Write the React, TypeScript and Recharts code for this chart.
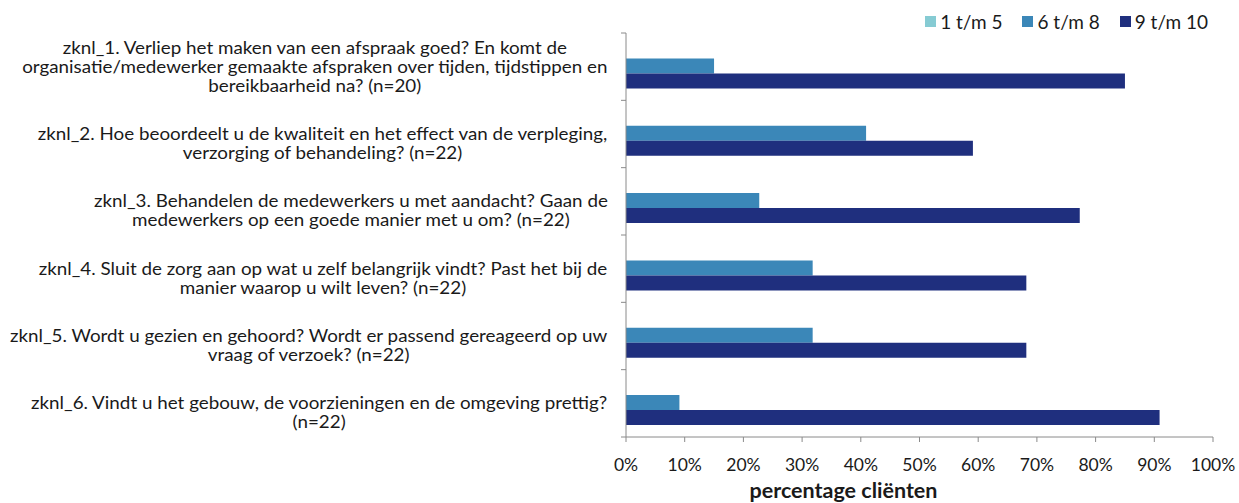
import { BarChart, Bar, XAxis, YAxis, Legend } from "recharts";

const categoryLines: string[][] = [
  [
    "zknl_1. Verliep het maken van een afspraak goed? En komt de",
    "organisatie/medewerker gemaakte afspraken over tijden, tijdstippen en",
    "bereikbaarheid na? (n=20)",
  ],
  [
    "zknl_2. Hoe beoordeelt u de kwaliteit en het effect van de verpleging,",
    "verzorging of behandeling? (n=22)",
  ],
  [
    "zknl_3. Behandelen de medewerkers u met aandacht? Gaan de",
    "medewerkers op een goede manier met u om? (n=22)",
  ],
  [
    "zknl_4. Sluit de zorg aan op wat u zelf belangrijk vindt? Past het bij de",
    "manier waarop u wilt leven? (n=22)",
  ],
  [
    "zknl_5. Wordt u gezien en gehoord? Wordt er passend gereageerd op uw",
    "vraag of verzoek? (n=22)",
  ],
  [
    "zknl_6. Vindt u het gebouw, de voorzieningen en de omgeving prettig?",
    "(n=22)",
  ],
];

const low = [0, 0, 0, 0, 0, 0]; // 1 t/m 5
const mid = [15.0, 40.9, 22.7, 31.8, 31.8, 9.1]; // 6 t/m 8
const high = [85.0, 59.1, 77.3, 68.2, 68.2, 90.9]; // 9 t/m 10

const xTicks = [0, 10, 20, 30, 40, 50, 60, 70, 80, 90, 100];

const seriesNames = ["1 t/m 5", "6 t/m 8", "9 t/m 10"];
const seriesColors = ["#86CBD3", "#3B87B8", "#1F2F7E"];

const data = categoryLines.map((lines, i) => ({
  name: lines.join(" "),
  lines,
  low: low[i],
  mid: mid[i],
  high: high[i],
}));

const W = 1239;
const H = 503;
const TOP = 33;
const BOTTOM_AXIS = 66;
const FONT = "Lato, 'Open Sans', sans-serif";
const AXIS_GREY = "#8a8a8a";
const TEXT = "#1a1a1a";
const CAT_FONT = 17.5;
const STRETCH = 1.075; // the source text is a little wider than it is tall
const BAND = (H - TOP - BOTTOM_AXIS) / categoryLines.length;

// measure label widths so the lines of each label can be centred in a right-aligned block
let ctx: CanvasRenderingContext2D | null = null;
function textWidth(s: string) {
  if (!ctx) {
    ctx = document.createElement("canvas").getContext("2d");
    if (ctx) ctx.font = `${CAT_FONT}px Lato`;
  }
  return (ctx ? ctx.measureText(s).width : s.length * 8) * STRETCH;
}

function CategoryTick(props: any) {
  const { x, y, payload, index } = props;
  const lines: string[] = data[index]?.lines ?? [String(payload.value)];
  const axisX = x;
  const maxW = Math.max(...lines.map(textWidth));
  const cx = axisX - 18 - maxW / 2;
  const lh = 19;
  const start = y - Math.floor((lines.length - 1) / 2) * lh;
  return (
    <g>
      <line x1={axisX} x2={axisX - 5} y1={y - BAND / 2} y2={y - BAND / 2} stroke={AXIS_GREY} />
      {index === data.length - 1 && (
        <line x1={axisX} x2={axisX - 5} y1={y + BAND / 2} y2={y + BAND / 2} stroke={AXIS_GREY} />
      )}
      <text
        textAnchor="middle"
        fontFamily={FONT}
        fontSize={CAT_FONT}
        fill={TEXT}
        transform={`translate(${cx},0) scale(${STRETCH},1)`}
      >
        {lines.map((l, i) => (
          <tspan key={i} x={0} y={start + i * lh} dy="0.35em">
            {l}
          </tspan>
        ))}
      </text>
    </g>
  );
}

function LegendContent() {
  return (
    <div
      style={{
        height: 24,
        display: "flex",
        justifyContent: "flex-end",
        alignItems: "center",
        fontFamily: FONT,
        fontSize: 19,
        color: TEXT,
        paddingRight: 5,
      }}
    >
      {seriesNames.map((n, i) => (
        <div key={n} style={{ display: "flex", alignItems: "center", marginLeft: 20 }}>
          <span
            style={{ width: 11, height: 11, background: seriesColors[i], display: "inline-block", marginRight: 4 }}
          />
          <span>{n}</span>
        </div>
      ))}
    </div>
  );
}

export default function App() {
  return (
    <div style={{ position: "absolute", left: 0, top: 0, width: W, height: H, background: "#fff" }}>
      <BarChart
        width={W}
        height={H}
        data={data}
        layout="vertical"
        margin={{ top: TOP - 24, right: 26, bottom: 0, left: 0 }}
        barCategoryGap="15.5%"
        barGap={0}
      >
        <Legend verticalAlign="top" align="right" content={<LegendContent />} />
        <XAxis
          type="number"
          domain={[0, 100]}
          ticks={xTicks}
          tickFormatter={(v) => `${v}%`}
          height={BOTTOM_AXIS}
          stroke={AXIS_GREY}
          tickSize={5}
          tickMargin={17}
          tick={{ fill: TEXT, fontSize: 17.5, fontFamily: FONT }}
          interval={0}
          label={{
            value: "percentage cliënten",
            position: "insideBottom",
            offset: 5,
            dx: -76,
            fill: TEXT,
            fontSize: 21.5,
            fontWeight: "bold",
            fontFamily: FONT,
          }}
        />
        <YAxis
          type="category"
          dataKey="name"
          width={626}
          stroke={AXIS_GREY}
          tickLine={false}
          tickSize={0}
          tickMargin={0}
          interval={0}
          tick={<CategoryTick />}
        />
        <Bar dataKey="low" name={seriesNames[0]} fill={seriesColors[0]} isAnimationActive={false} />
        <Bar dataKey="mid" name={seriesNames[1]} fill={seriesColors[1]} isAnimationActive={false} />
        <Bar dataKey="high" name={seriesNames[2]} fill={seriesColors[2]} isAnimationActive={false} />
      </BarChart>
    </div>
  );
}
